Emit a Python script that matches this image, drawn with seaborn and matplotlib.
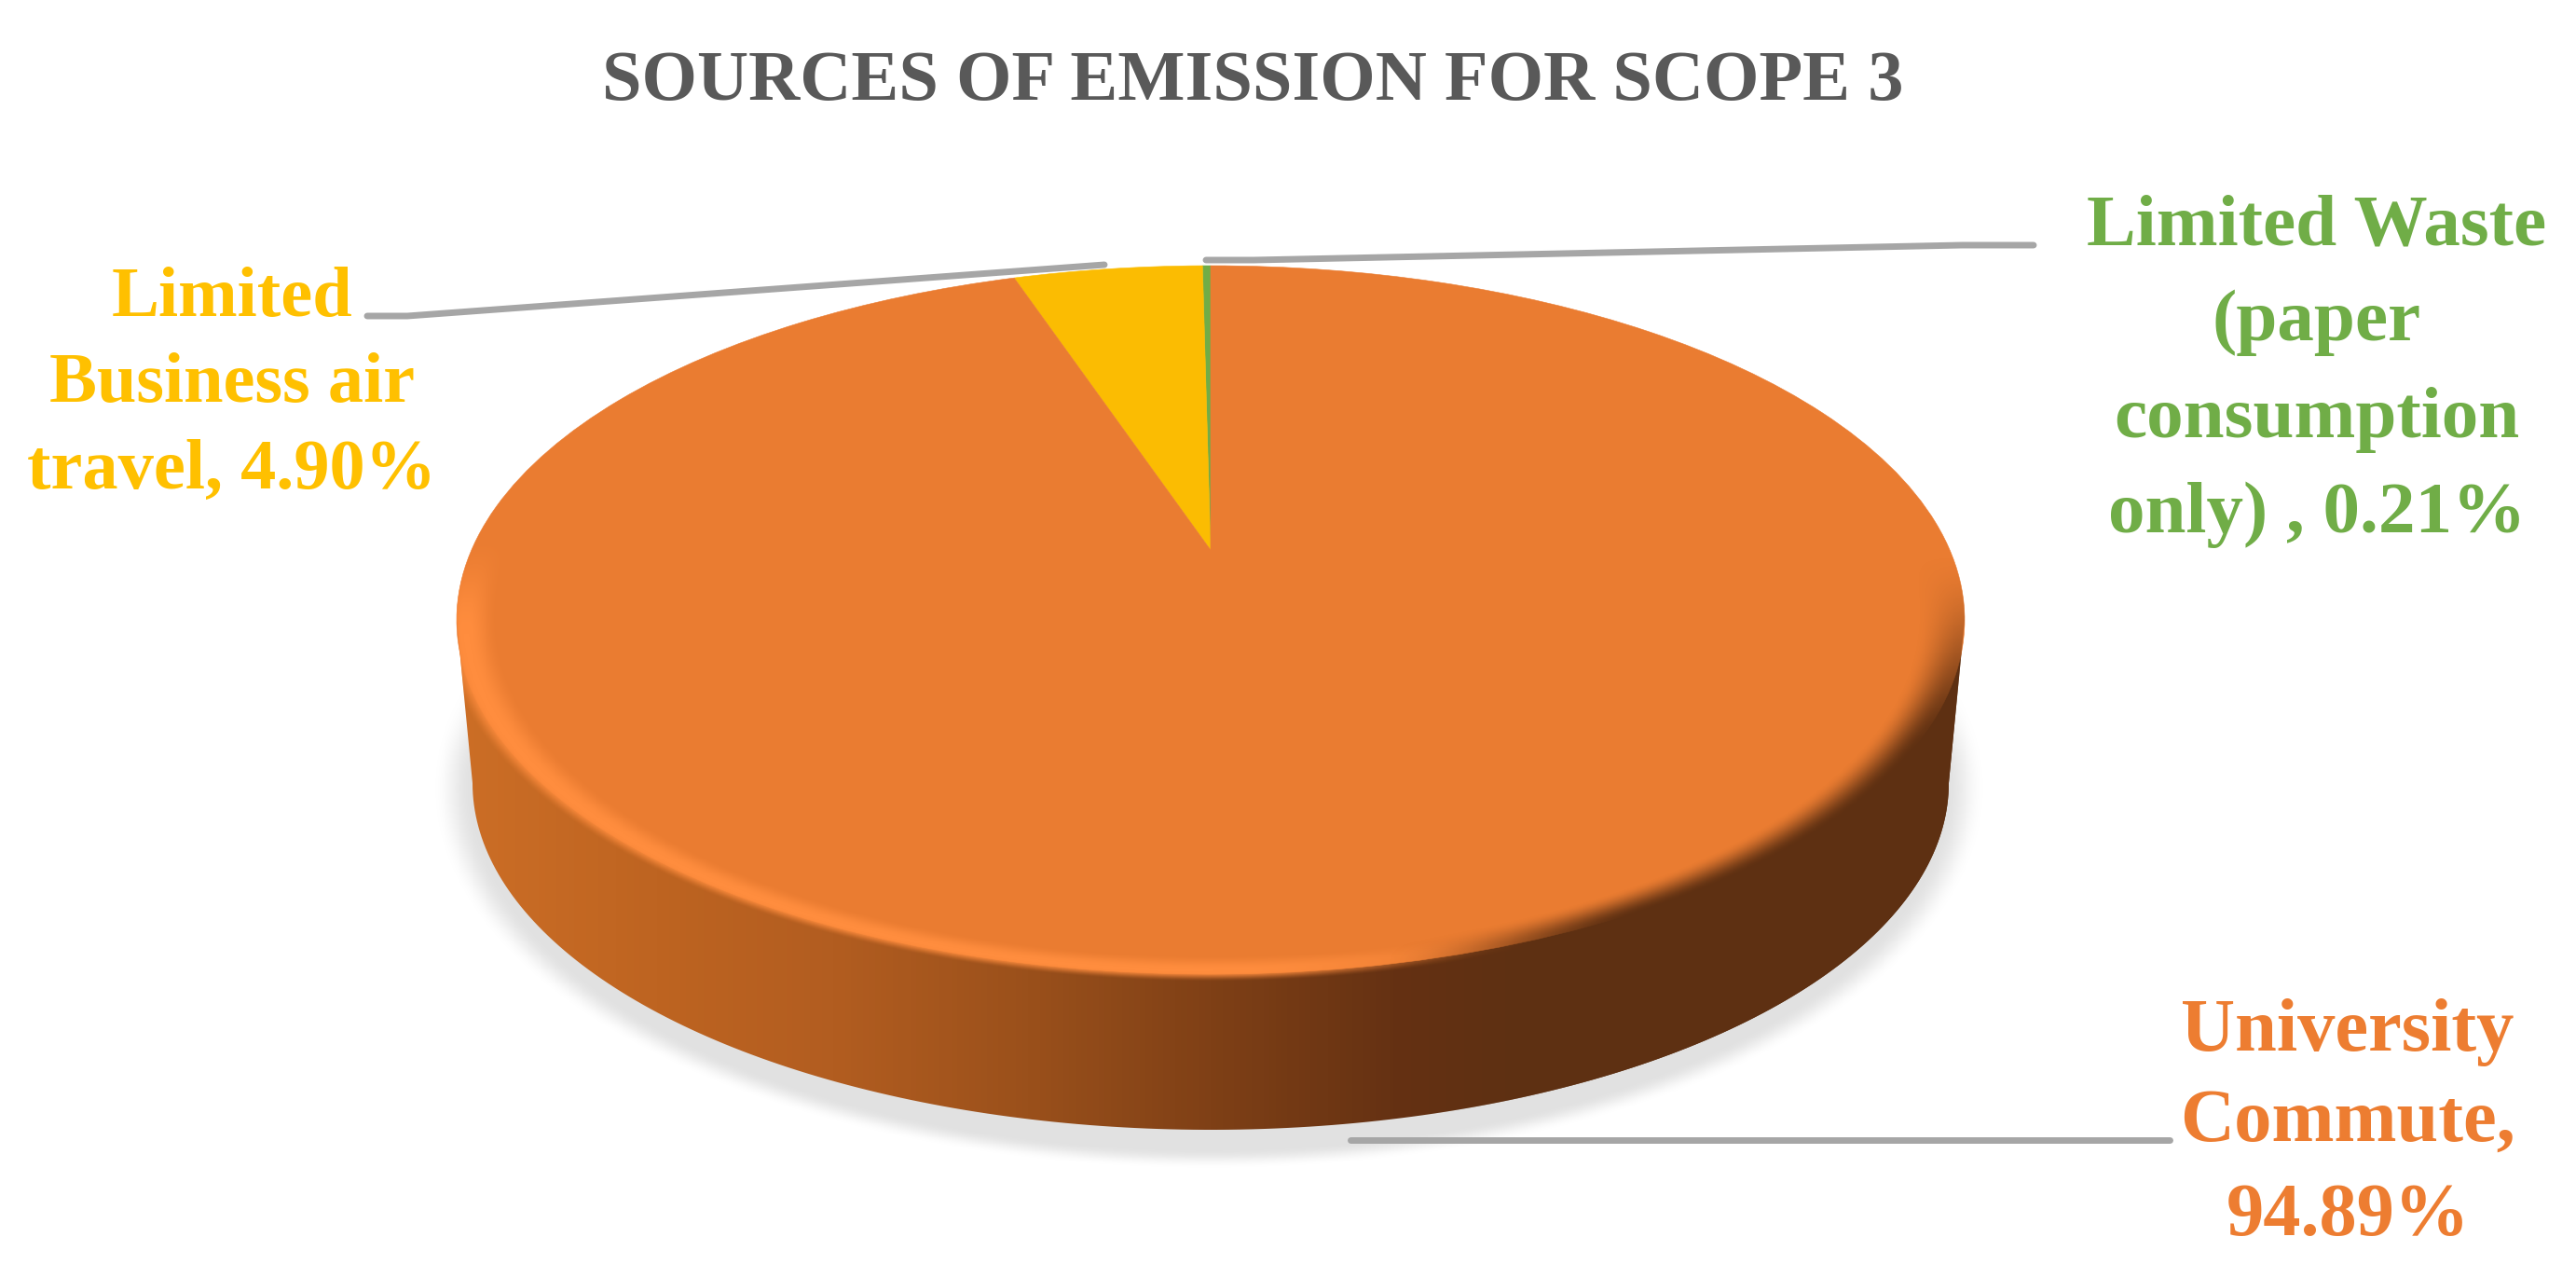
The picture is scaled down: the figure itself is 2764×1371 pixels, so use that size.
import numpy as np
import matplotlib
matplotlib.use('Agg')
import matplotlib.pyplot as plt
import seaborn as sns
from matplotlib.colors import LinearSegmentedColormap, to_rgb
from matplotlib.patches import PathPatch, Polygon
from matplotlib.path import Path

# Data (green first so it sits right next to 12 o'clock)
categories = ['Limited Waste (paper consumption only)', 'Limited Business air travel', 'University Commute']
shares = [0.21, 4.90, 94.89]
slice_colors = ['#70AD47', '#FBBC02', '#EA7C31']
label_colors = ['#70AD47', '#FFC000', '#ED7D31']
title_text = 'SOURCES OF EMISSION FOR SCOPE 3'
waste_lines = ['Limited Waste', '(paper', 'consumption', 'only) , 0.21%']
air_lines = ['Limited', 'Business air', 'travel, 4.90%']
commute_lines = ['University', 'Commute,', '94.89%']

# Disc geometry in pixels
cx, cy, rx, ry = 1299, 665, 809, 380
apex_shift = 0.197
base_cy, base_rx, base_ry = 840, 792, 372

sns.set_theme(style='white')
plt.rcParams['font.family'] = ['Liberation Serif', 'DejaVu Serif']
palette = sns.color_palette(slice_colors)

fig = plt.figure(figsize=(27.64, 13.71), dpi=100)
ax = fig.add_axes([0, 0, 1, 1])

# Pixel grid used for shadow and bevel shading
xx, yy = np.meshgrid(np.arange(440, 2160), np.arange(240, 1290))
grid_extent = (440, 2160, 1290, 240)


def smooth(t):
    t = np.clip(t, 0, 1)
    return t * t * (3 - 2 * t)


def overlay(color, alpha, z, clip=None):
    img = np.zeros(alpha.shape + (4,))
    img[..., :3] = to_rgb(color)
    img[..., 3] = alpha
    im = ax.imshow(img, extent=grid_extent, aspect='auto', zorder=z, interpolation='bilinear')
    if clip is not None:
        im.set_clip_path(clip)


# Soft shadow under the disc
r_shadow = np.hypot((xx - 1297) / 832, (yy - 845) / 408)
overlay('#DADADA', 0.8 * (1 - smooth((r_shadow - 0.95) / 0.05)) * smooth((yy - 680) / 150), 1)

# Side wall, gradient from left to right
wall_cmap = LinearSegmentedColormap.from_list('wall', [
    (0.00, '#CC6E26'), (0.13, '#BE6421'), (0.25, '#B25D20'), (0.38, '#9A501B'),
    (0.50, '#7F4016'), (0.62, '#663213'), (0.72, '#5E3012'), (1.00, '#5E3012')])
t = np.linspace(0, np.pi, 200)
outline = np.vstack([
    [[cx + rx, cy]],
    np.column_stack([cx + base_rx * np.cos(t), base_cy + base_ry * np.sin(t)]),
    [[cx - rx, cy]],
])
wall_clip = Polygon(outline, closed=True, transform=ax.transData, fc='none', lw=0)
ax.add_patch(wall_clip)
wall = ax.imshow(np.linspace(0, 1, 512)[None, :], extent=(cx - rx, cx + rx, 1230, cy),
                 aspect='auto', cmap=wall_cmap, zorder=2)
wall.set_clip_path(wall_clip)

# Pie from the library, then put in perspective: the apex sits above the ellipse centre
wedges, _ = ax.pie(shares, colors=palette, startangle=90, counterclock=True, radius=1)


def to_disc(v):
    den = 1 + apex_shift * v[:, 1]
    px = v[:, 0] * np.sqrt(1 - apex_shift ** 2) / den
    py = (v[:, 1] + apex_shift) / den
    return np.column_stack([cx + rx * px, cy - ry * py])


for wedge in wedges:
    p = wedge.get_path()
    ax.add_patch(PathPatch(Path(to_disc(p.vertices), p.codes), fc=wedge.get_facecolor(),
                           ec=wedge.get_facecolor(), lw=0.4, zorder=3))
    wedge.set_visible(False)

# Bevel on the rim: light on the lower left, dark on the lower right.
# It spills a little over the wall so the rim looks blurred.
# The clip outline runs over the top from right to left, then back along the wall.
a = np.linspace(0, np.pi, 200)
body = np.vstack([
    np.column_stack([cx + rx * np.cos(a), cy - ry * np.sin(a)]),
    outline[::-1],
])
body_clip = Polygon(body, closed=True, transform=ax.transData, fc='none', lw=0)
ax.add_patch(body_clip)

r_top = np.hypot((xx - cx) / rx, (yy - cy) / ry)
band = smooth((r_top - 0.945) / 0.04) * (1 - smooth((r_top - 0.992) / 0.028))
overlay('#FF8D3E', band * (1 - smooth((xx - 1300) / 380)) * smooth((yy - 570) / 110), 4, body_clip)
dark = smooth((r_top - 0.935) / 0.065)
overlay('#5E3012', dark * smooth((xx - 1480) / 280) * smooth((yy - 590) / 220), 4, body_clip)

# Leader lines
leader_color = '#A6A6A6'
ax.plot([394, 437, 1185], [339, 339, 284], color=leader_color, lw=5, solid_joinstyle='miter', zorder=5)
ax.plot([1294, 1345, 2105, 2182], [279, 279, 263, 263], color=leader_color, lw=5, solid_joinstyle='miter', zorder=5)
ax.plot([1449, 2328], [1223, 1223], color=leader_color, lw=5, zorder=5)

# Title and labels, one text per line
ax.text(1344, 88, title_text, color='#595959', fontsize=55, fontweight='bold', ha='center', va='center', zorder=6)
for lines, x, ys, color, size in [
    (air_lines, 249, [320, 413, 505], label_colors[1], 55),
    (waste_lines, 2486, [244, 346, 450, 552], label_colors[0], 57),
    (commute_lines, 2519, [1107, 1204, 1306], label_colors[2], 58),
]:
    for line, y in zip(lines, ys):
        ax.text(x, y, line, color=color, fontsize=size, fontweight='bold', ha='center', va='center', zorder=6)

ax.set_aspect('auto')
ax.set_xlim(0, 2764)
ax.set_ylim(1371, 0)
ax.axis('off')

fig.savefig('out.png', dpi=100, facecolor='white')
